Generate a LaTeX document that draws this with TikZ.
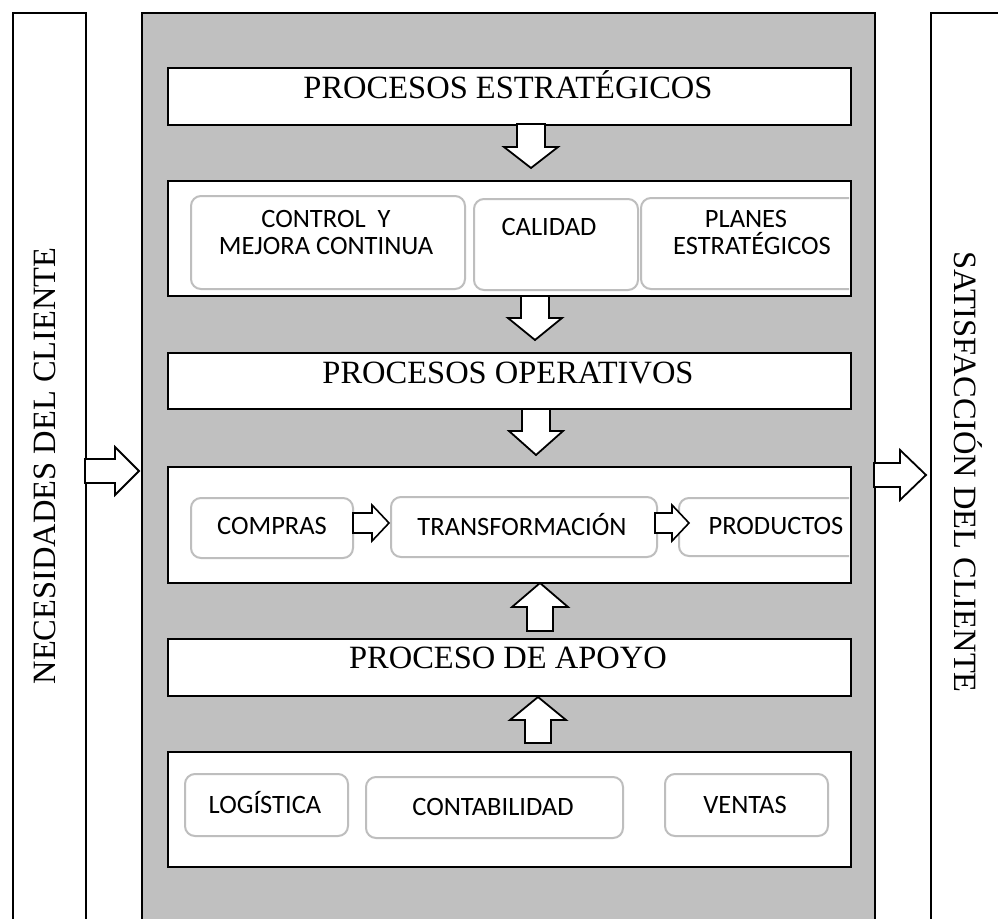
\documentclass[tikz,border=0pt]{standalone}
\usepackage{fontspec}
\setmainfont{Liberation Serif}
\newfontfamily\calib{Carlito}
\definecolor{panelgray}{RGB}{192,192,192}
\definecolor{boxgray}{RGB}{190,190,190}
\newcommand{\darr}[4]{% x, shaft top, head base, tip
  \draw[barrow] (#1-14,#2) -- (#1+14,#2) -- (#1+14,#3) -- (#1+27,#3) -- (#1,#4) -- (#1-27,#3) -- (#1-14,#3) -- cycle;}
\newcommand{\uarr}[4]{% x, shaft bottom, head base, tip
  \draw[barrow] (#1-13,#2) -- (#1+13,#2) -- (#1+13,#3) -- (#1+28,#3) -- (#1,#4) -- (#1-28,#3) -- (#1-13,#3) -- cycle;}
\newcommand{\rarr}[7]{% x start, head base, tip, y center, shaft half, head half, width
  \draw[barrow,line width=#7] (#1,#4-#5) -- (#2,#4-#5) -- (#2,#4-#6) -- (#3,#4) -- (#2,#4+#6) -- (#2,#4+#5) -- (#1,#4+#5) -- cycle;}
\begin{document}
\begin{tikzpicture}[x=1pt,y=-1pt,
  sidebox/.style={draw=black,fill=white,line width=2pt,inner sep=0pt,anchor=north west,minimum width=73pt,minimum height=940pt},
  panel/.style={draw=black,fill=panelgray,line width=2pt,inner sep=0pt,anchor=north west},
  wbox/.style={draw=black,fill=white,line width=2pt,inner sep=0pt,anchor=north west,minimum width=683pt},
  rbox/.style={draw=boxgray,fill=white,line width=2pt,rounded corners=10pt,inner sep=0pt,anchor=north west},
  title/.style={font=\fontsize{32.5}{36}\selectfont,anchor=base,inner sep=0pt},
  lab/.style={font=\calib\fontsize{26.5}{27}\selectfont,anchor=base,inner sep=0pt},
  barrow/.style={draw=black,fill=white,line width=1.8pt,line join=miter}]
\useasboundingbox (0,0) rectangle (998,918);
\clip (0,0) rectangle (998,918);

% side columns and central panel
\node[sidebox] (left) at (12,12) {};
\node[sidebox,minimum width=120pt] (right) at (930,12) {};
\node[panel,minimum width=733pt,minimum height=940pt] (panel) at (141,12) {};

% white containers
\node[wbox,minimum height=57pt] (b1) at (167,67) {};
\node[wbox,minimum height=115pt] (b2) at (167,180) {};
\node[wbox,minimum height=56pt] (b3) at (167,352) {};
\node[wbox,minimum height=116pt] (b4) at (167,466) {};
\node[wbox,minimum height=57pt] (b5) at (167,638) {};
\node[wbox,minimum height=115pt] (b6) at (167,751) {};

% titles
\node[title] (t1) at (508,98) {PROCESOS ESTRATÉGICOS};
\node[title] (t3) at (508,383) {PROCESOS OPERATIVOS};
\node[title] (t5) at (508,668) {PROCESO DE APOYO};

% strategic sub-boxes
\node[rbox,minimum width=274pt,minimum height=93pt] (r1) at (190,195) {};
\node[rbox,minimum width=164pt,minimum height=91pt] (r2) at (473,198) {};
\begin{scope}
  \clip (168,181) rectangle (849,294);
  \node[rbox,minimum width=250pt,minimum height=91pt] (r3) at (640,197) {};
\end{scope}
\node[lab] (l1a) at (326,227) {CONTROL\ \ Y};
\node[lab] (l1b) at (326,254) {MEJORA CONTINUA};
\node[lab] (l2) at (549,235) {CALIDAD};
\node[lab] (l3a) at (746,227) {PLANES};
\node[lab] (l3b) at (752,254) {ESTRATÉGICOS};

% operative sub-boxes
\node[rbox,minimum width=162pt,minimum height=60pt] (r4) at (190,497) {};
\node[rbox,minimum width=266pt,minimum height=60pt] (r5) at (390,496) {};
\begin{scope}
  \clip (168,467) rectangle (849,581);
  \node[rbox,minimum width=200pt,minimum height=58pt] (r6) at (678,497) {};
\end{scope}
\node[lab] (l4) at (272,534) {COMPRAS};
\node[lab] (l5) at (522,535) {TRANSFORMACIÓN};
\node[lab] (l6) at (776,534) {PRODUCTOS};

% support sub-boxes
\node[rbox,minimum width=163pt,minimum height=62pt] (r7) at (184,773) {};
\node[rbox,minimum width=257pt,minimum height=61pt] (r8) at (365,776) {};
\node[rbox,minimum width=163pt,minimum height=62pt] (r9) at (664,773) {};
\node[lab] (l7) at (265,813) {LOGÍSTICA};
\node[lab] (l8) at (493,815) {CONTABILIDAD};
\node[lab] (l9) at (745,813) {VENTAS};

% vertical texts
\node[title,rotate=90] (nec) at (55,466) {NECESIDADES DEL CLIENTE};
\node[title,rotate=-90] (sat) at (954,472) {SATISFACCIÓN DEL CLIENTE};

% block arrows
\darr{531}{124}{147}{168}
\darr{535}{296}{318}{340}
\darr{536}{409}{431}{455}
\uarr{540}{631}{607}{583}
\uarr{538}{743}{720}{697}
\rarr{85}{115}{139}{471}{12}{24}{1.8pt}
\rarr{874}{900}{926}{475}{12}{25}{1.8pt}
\rarr{353}{372}{389}{523}{10}{18}{1.6pt}
\rarr{655}{672}{689}{523}{10}{18}{1.6pt}
\end{tikzpicture}
\end{document}
